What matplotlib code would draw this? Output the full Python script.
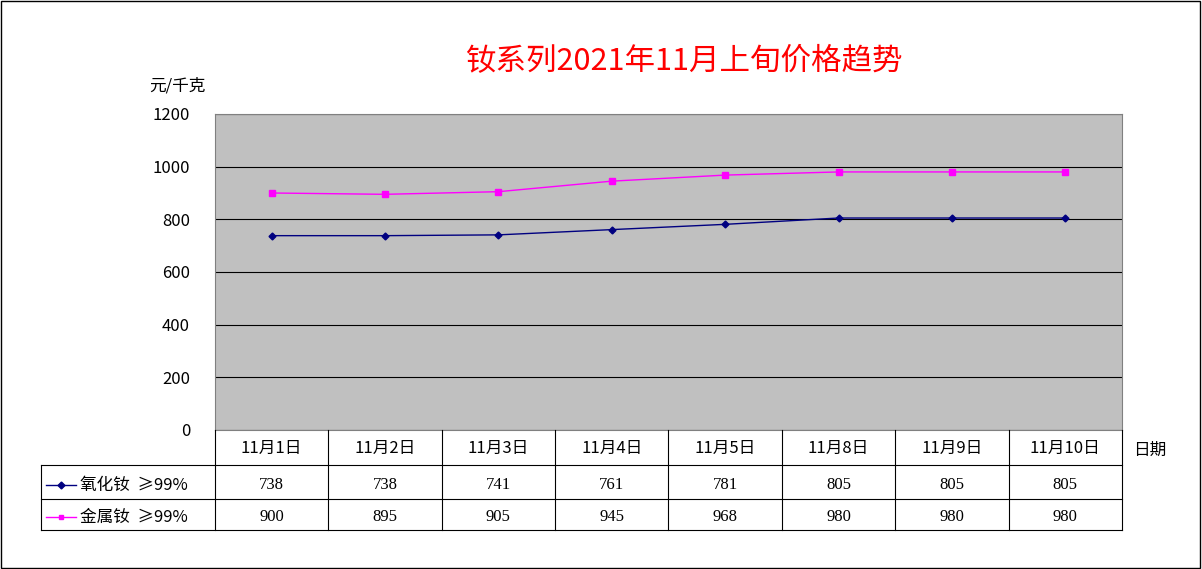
import matplotlib
matplotlib.use("Agg")
import matplotlib.pyplot as plt
from matplotlib.lines import Line2D

plt.rcParams['font.family'] = ['Noto Sans CJK SC', 'DejaVu Sans']

categories = ["11月1日", "11月2日", "11月3日", "11月4日", "11月5日", "11月8日", "11月9日", "11月10日"]
oxide = [738, 738, 741, 761, 781, 805, 805, 805]
metal = [900, 895, 905, 945, 968, 980, 980, 980]
series_names = ["氧化钕  ≥99%", "金属钕  ≥99%"]
yticks = [0, 200, 400, 600, 800, 1000, 1200]

W, H = 1202, 569
fig = plt.figure(figsize=(W/100, H/100), dpi=100)
def fx(x): return x / W
def fy(y): return 1 - y / H

L, R, T, B = 215, 1122, 114, 430
ax = fig.add_axes([fx(L), fy(B), fx(R) - fx(L), fy(T) - fy(B)])
ax.set_facecolor('#C0C0C0')
ax.set_xlim(-0.5, len(categories) - 0.5)
ax.set_ylim(0, 1200)
ax.set_yticks(yticks)
ax.set_yticklabels([str(v) for v in yticks], fontsize=12)
ax.tick_params(axis='y', length=0, pad=18)
ax.set_xticks([])
ax.grid(axis='y', color='black', linewidth=0.8)
ax.set_axisbelow(True)
for s in ax.spines.values():
    s.set_color('#808080'); s.set_linewidth(0.8)
x = list(range(len(categories)))
ax.plot(x, oxide, color='#000080', marker='D', markersize=3.5, linewidth=1)
ax.plot(x, metal, color='#FF00FF', marker='s', markersize=4, linewidth=1)

fig.text(fx(685), fy(62), "钕系列2021年11月上旬价格趋势", color='red', fontsize=22, ha='center', va='center')
fig.text(fx(177), fy(86), "元/千克", fontsize=12, ha='center', va='center')
fig.text(fx(1150), fy(450), "日期", fontsize=12, ha='center', va='center')

# table
colw = (R - L) / len(categories)
rows = [430, 465, 499, 530]
lc = 'black'
def hline(y, x0, x1):
    fig.add_artist(Line2D([fx(x0), fx(x1)], [fy(y), fy(y)], color=lc, linewidth=0.8))
def vline(xp, y0, y1):
    fig.add_artist(Line2D([fx(xp), fx(xp)], [fy(y0), fy(y1)], color=lc, linewidth=0.8))
hline(465, 41, R); hline(499, 41, R); hline(530, 41, R)
vline(41, 465, 530)
for i in range(len(categories) + 1):
    vline(L + i * colw, 430, 530)
for i, c in enumerate(categories):
    cx = L + (i + 0.5) * colw
    fig.text(fx(cx), fy(448), c, fontsize=12, ha='center', va='center')
    fig.text(fx(cx), fy(485), str(oxide[i]), fontsize=12, ha='center', va='center', family='Liberation Serif')
    fig.text(fx(cx), fy(517), str(metal[i]), fontsize=12, ha='center', va='center', family='Liberation Serif')
for yc, name, col, mk in [(485, series_names[0], '#000080', 'D'), (517, series_names[1], '#FF00FF', 's')]:
    fig.add_artist(Line2D([fx(46), fx(76)], [fy(yc), fy(yc)], color=col, linewidth=1))
    fig.add_artist(Line2D([fx(61)], [fy(yc)], color=col, marker=mk, markersize=3.5))
    fig.text(fx(80), fy(yc), name, fontsize=12, ha='left', va='center')

fig.add_artist(plt.Rectangle((0.001, 0.002), 0.997, 0.996, fill=False, edgecolor='black', linewidth=1, transform=fig.transFigure))
fig.savefig("out.png", dpi=100)
